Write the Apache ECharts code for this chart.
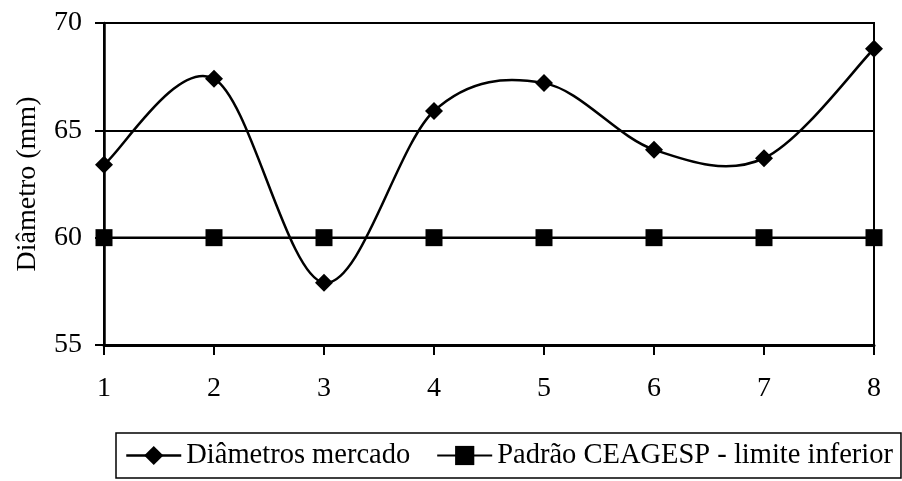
<!DOCTYPE html>
<html>
<head>
<meta charset="utf-8">
<script src="https://cdn.jsdelivr.net/npm/echarts@6/dist/echarts.min.js"></script>
<style>
    html, body { margin: 0; padding: 0; background: #fff; }
    #chart { width: 902px; height: 481px; }
</style>
</head>
<body>
<div id="chart"></div>
<script>
    // dados
    var categorias = ['1', '2', '3', '4', '5', '6', '7', '8'];
    var diametrosMercado = [63.4, 67.4, 57.9, 65.9, 67.2, 64.1, 63.7, 68.8];
    var padraoCeagesp = [60, 60, 60, 60, 60, 60, 60, 60];

    var fonte = 'Liberation Serif';
    var myChart = echarts.init(document.getElementById('chart'));

    // curva suavizada tipo Excel (Catmull-Rom -> Bezier) sobre as coordenadas do eixo
    function curvaSuave(params, api) {
        var pts = diametrosMercado.map(function (v, i) {
            return api.coord([i, v]);
        });
        var d = 'M' + pts[0][0] + ' ' + pts[0][1];
        for (var i = 0; i < pts.length - 1; i++) {
            var p0 = pts[i - 1] || pts[i];
            var p1 = pts[i];
            var p2 = pts[i + 1];
            var p3 = pts[i + 2] || pts[i + 1];
            var c1x = p1[0] + (p2[0] - p0[0]) / 6;
            var c1y = p1[1] + (p2[1] - p0[1]) / 6;
            var c2x = p2[0] - (p3[0] - p1[0]) / 6;
            var c2y = p2[1] - (p3[1] - p1[1]) / 6;
            d += ' C' + c1x + ' ' + c1y + ' ' + c2x + ' ' + c2y + ' ' + p2[0] + ' ' + p2[1];
        }
        return {
            type: 'path',
            shape: { pathData: d },
            style: { fill: null, stroke: '#000', lineWidth: 2.5 }
        };
    }

    var option = {
        animation: false,
        backgroundColor: '#fff',
        textStyle: { fontFamily: fonte, color: '#000' },
        grid: {
            left: 104,
            right: 28,
            top: 23,
            bottom: 136,
            show: true,
            borderColor: '#000',
            borderWidth: 2
        },
        legend: {
            left: 116,
            top: 433,
            padding: [8, 8, 8, 9],
            borderColor: '#000',
            borderWidth: 1.5,
            itemWidth: 55,
            itemHeight: 24,
            itemGap: 26,
            textStyle: { fontFamily: fonte, fontSize: 28.5, color: '#000' },
            data: [
                // o ícone da legenda precisa da linha, que na série está escondida
                { name: 'Diâmetros mercado', lineStyle: { opacity: 1, color: '#000', width: 2.5 } },
                'Padrão CEAGESP - limite inferior'
            ]
        },
        xAxis: {
            type: 'category',
            data: categorias,
            boundaryGap: false,
            axisLine: { lineStyle: { color: '#000', width: 3 } },
            axisTick: { length: 10, lineStyle: { color: '#000', width: 2 } },
            axisLabel: { margin: 30, fontFamily: fonte, fontSize: 28, color: '#000' },
            splitLine: { show: false }
        },
        yAxis: {
            type: 'value',
            min: 55,
            max: 70,
            interval: 5,
            name: 'Diâmetro (mm)',
            nameLocation: 'middle',
            nameGap: 62,
            nameTextStyle: { fontFamily: fonte, fontSize: 28, color: '#000' },
            axisLine: { show: true, lineStyle: { color: '#000', width: 2.5 } },
            axisTick: { show: true, length: 9, lineStyle: { color: '#000', width: 2 } },
            axisLabel: { margin: 22, fontFamily: fonte, fontSize: 28, color: '#000' },
            splitLine: { lineStyle: { color: '#000', width: 2 } }
        },
        series: [
            {
                name: 'Padrão CEAGESP - limite inferior',
                type: 'line',
                data: padraoCeagesp,
                symbol: 'rect',
                symbolSize: 17,
                itemStyle: { color: '#000' },
                lineStyle: { color: '#000', width: 2.5 },
                z: 2
            },
            {
                // só a linha suave, os marcadores vêm da série abaixo
                type: 'custom',
                renderItem: curvaSuave,
                data: [0],
                silent: true,
                z: 3
            },
            {
                name: 'Diâmetros mercado',
                type: 'line',
                data: diametrosMercado,
                symbol: 'diamond',
                symbolSize: 18,
                showAllSymbol: true,
                itemStyle: { color: '#000' },
                lineStyle: { color: '#000', width: 2.5, opacity: 0 },
                z: 4
            }
        ]
    };
    myChart.setOption(option);
</script>
</body>
</html>
